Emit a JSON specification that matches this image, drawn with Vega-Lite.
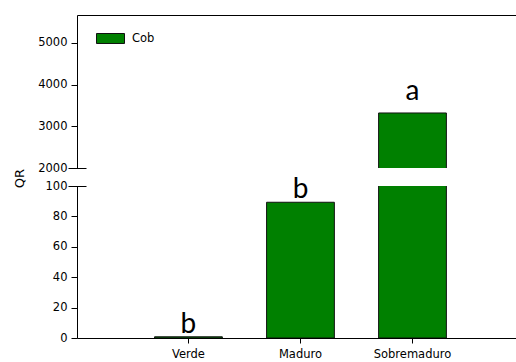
{
  "$schema": "https://vega.github.io/schema/vega-lite/v6.json",
  "padding": {"left": 13, "top": 15, "right": 0, "bottom": 0},
  "spacing": 18,
  "bounds": "flush",
  "data": {
    "values": [
      {"stage": "Verde", "QR": 0.8, "grp": "b", "series": "Cob"},
      {"stage": "Maduro", "QR": 89.3, "grp": "b", "series": "Cob"},
      {"stage": "Sobremaduro", "QR": 3320, "grp": "a", "series": "Cob"}
    ]
  },
  "vconcat": [
    {
      "width": 439,
      "height": 153,
      "layer": [
        {
          "mark": {"type": "bar", "clip": true, "stroke": "#111", "strokeWidth": 1},
          "encoding": {
            "x": {
              "field": "stage", "type": "nominal", "sort": null,
              "scale": {"paddingInner": 0.395, "paddingOuter": 0.657, "align": 0.527},
              "axis": {"orient": "top", "labels": false, "ticks": false, "title": null}
            },
            "y": {
              "field": "QR", "type": "quantitative",
              "scale": {"domain": [2000, 5670], "nice": false, "zero": false},
              "axis": {"values": [2000, 3000, 4000, 5000], "format": "d", "title": null, "tickSize": 6, "labelPadding": 4}
            },
            "color": {
              "field": "series", "type": "nominal",
              "scale": {"range": ["#008000"]},
              "legend": {
                "title": null, "orient": "none", "legendX": 19, "legendY": 9,
                "symbolType": "M-1,-0.357H1V0.357H-1Z", "symbolSize": 784,
                "symbolStrokeColor": "#111", "symbolStrokeWidth": 1, "symbolOpacity": 1,
                "labelFont": "DejaVu Sans", "labelFontSize": 11.5, "labelColor": "#000",
                "labelOffset": 7, "padding": 0
              }
            }
          }
        },
        {
          "transform": [{"filter": "datum.stage === 'Sobremaduro'"}],
          "mark": {"type": "text", "dy": -13, "baseline": "alphabetic", "font": "Lato", "fontSize": 28, "color": "#000"},
          "encoding": {
            "x": {"field": "stage", "type": "nominal", "sort": null},
            "y": {
              "field": "QR", "type": "quantitative",
              "axis": {"orient": "left", "values": [2000], "offset": -9, "tickSize": 18, "labels": false, "domain": false, "title": null}
            },
            "text": {"field": "grp"}
          }
        }
      ],
      "resolve": {"axis": {"y": "independent"}}
    },
    {
      "width": 439,
      "height": 152,
      "layer": [
        {
          "mark": {"type": "bar", "clip": true, "color": "#008000", "stroke": "#111", "strokeWidth": 1},
          "encoding": {
            "x": {
              "field": "stage", "type": "nominal", "sort": null,
              "scale": {"paddingInner": 0.395, "paddingOuter": 0.657, "align": 0.527},
              "axis": {"orient": "bottom", "title": null, "labelAngle": 0, "tickSize": 5, "labelPadding": 5}
            },
            "y": {
              "field": "QR", "type": "quantitative",
              "scale": {"domain": [0, 100], "nice": false},
              "axis": {
                "values": [0, 20, 40, 60, 80, 100], "format": "d", "tickSize": 6, "labelPadding": 4,
                "title": "QR", "titleX": -58, "titleY": -8, "titleAngle": -90,
                "titleAlign": "center", "titleBaseline": "middle",
                "titleFont": "DejaVu Sans", "titleFontSize": 13, "titleFontWeight": "normal", "titleColor": "#000"
              }
            }
          }
        },
        {
          "transform": [{"filter": "datum.stage !== 'Sobremaduro'"}],
          "mark": {"type": "text", "dy": -4, "baseline": "alphabetic", "font": "Lato", "fontSize": 28, "color": "#000"},
          "encoding": {
            "x": {"field": "stage", "type": "nominal", "sort": null},
            "y": {
              "field": "QR", "type": "quantitative",
              "axis": {"orient": "left", "values": [100], "offset": -9, "tickSize": 18, "labels": false, "domain": false, "title": null}
            },
            "text": {"field": "grp"}
          }
        }
      ],
      "resolve": {"axis": {"y": "independent"}}
    }
  ],
  "resolve": {"legend": {"color": "independent"}},
  "config": {
    "view": {"stroke": null},
    "axis": {
      "labelFont": "DejaVu Sans", "labelFontSize": 11.5, "labelColor": "#000",
      "tickColor": "#000", "domainColor": "#000", "grid": false
    }
  }
}
